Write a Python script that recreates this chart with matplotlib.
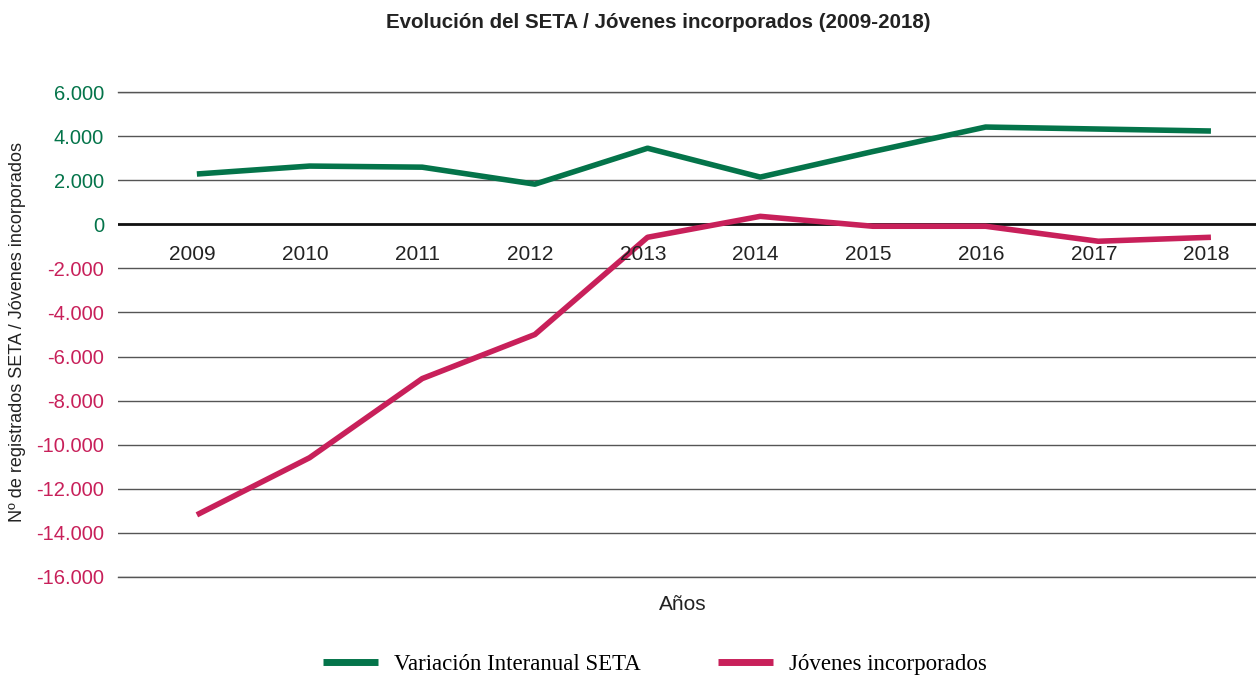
import matplotlib
matplotlib.use("Agg")
import matplotlib.pyplot as plt
from matplotlib.ticker import FuncFormatter

plt.rcParams['font.family'] = ['Liberation Sans', 'DejaVu Sans']

years = ['2009', '2010', '2011', '2012', '2013', '2014', '2015', '2016', '2017', '2018']
seta = [2280, 2640, 2590, 1820, 3450, 2140, 3300, 4410, 4320, 4230]
jovenes = [-13180, -10590, -7000, -5000, -590, 360, -90, -90, -770, -590]

GREEN = '#04744a'
RED = '#c8205a'

fig = plt.figure(figsize=(12.56, 6.77), dpi=100)
ax = fig.add_axes([118 / 1256, 1 - 577 / 677, 1 - 118 / 1256, (577 - 92) / 677])

x = list(range(len(years)))
ax.plot(x, seta, color=GREEN, lw=4, solid_capstyle='butt', label='Variación Interanual SETA', zorder=3)
ax.plot(x, jovenes, color=RED, lw=4, solid_capstyle='butt', label='Jóvenes incorporados', zorder=3)

ax.set_ylim(-16000, 6000)
ax.set_xlim(-0.70, 9.40)
ax.set_yticks(range(-16000, 6001, 2000))
ax.yaxis.set_major_formatter(FuncFormatter(lambda v, p: f"{int(v):,}".replace(',', '.')))
ax.grid(axis='y', color='#555555', lw=1)
ax.axhline(0, color='#111111', lw=2, zorder=2)
ax.axhline(-16000, color='#555555', lw=1, zorder=2, clip_on=False)
ax.axhline(6000, color='#555555', lw=1, zorder=2, clip_on=False)
ax.set_xticks([])
for s in ax.spines.values():
    s.set_visible(False)
ax.tick_params(axis='y', length=0, labelsize=14.5, pad=10)
for lbl, v in zip(ax.get_yticklabels(), ax.get_yticks()):
    lbl.set_color(GREEN if v >= 0 else RED)

# year labels sit just under the zero line
for i, yr in enumerate(years):
    ax.text(i - 0.04, -950, yr, ha='center', va='top', fontsize=15, color='#222222')

fig.text(18 / 1256, 1 - 332 / 677, 'Nº de registrados SETA / Jóvenes incorporados', rotation=90,
         ha='center', va='center', fontsize=13, color='#222222')
fig.text(683 / 1256, 1 - 604 / 677, 'Años', ha='center', va='center', fontsize=15, color='#222222')
fig.text(658 / 1256, 1 - 22 / 677, 'Evolución del SETA / Jóvenes incorporados (2009-2018)',
         ha='center', va='center', fontsize=14.8, fontweight='bold', color='#222222')

leg = fig.legend(loc='center', bbox_to_anchor=(655 / 1256, 1 - 664 / 677), ncol=2, frameon=False,
                 prop={'family': 'Liberation Serif', 'size': 16.5}, handlelength=2.4,
                 handletextpad=0.7, columnspacing=3.4)
for h in leg.get_lines():
    h.set_linewidth(5)

fig.savefig('out.png', dpi=100)
